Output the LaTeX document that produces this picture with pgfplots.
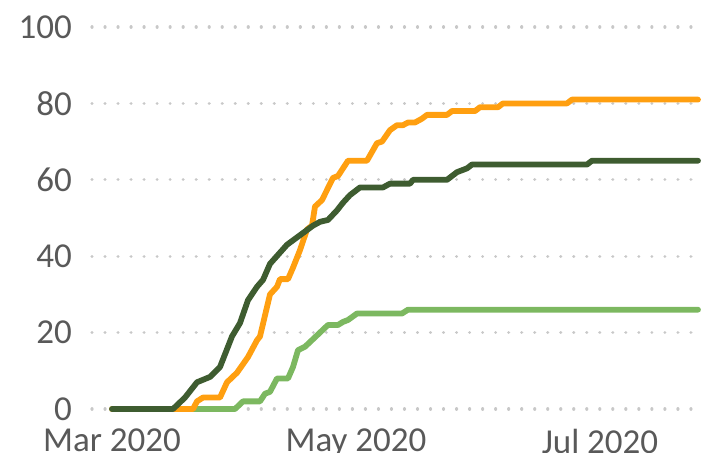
\documentclass[border=0pt]{standalone}
\usepackage{pgfplots}
\pgfplotsset{compat=1.18}
\usepackage{fontspec}
\setmainfont{Carlito}
\definecolor{cOrange}{RGB}{255,159,16}
\definecolor{cDark}{RGB}{62,92,48}
\definecolor{cLight}{RGB}{124,184,96}
\definecolor{cGrid}{RGB}{200,200,200}
\definecolor{cText}{RGB}{89,89,89}
\begin{document}
\begin{tikzpicture}
\begin{axis}[
  at={(0,0)}, anchor=south west,
  scale only axis, width=304pt, height=191pt,
  xmin=-5, xmax=147, ymin=0, ymax=100,
  axis line style={draw=none},
  clip=false,
  xtick={0,61,122}, xticklabels={Mar 2020, May 2020, Jul 2020},
  ytick={0,20,40,60,80,100},
  major tick length=0pt,
  ymajorgrids,
  grid style={cGrid, line width=1.6pt, dash pattern=on 0.01pt off 6.5pt, line cap=round},
  tick label style={font=\fontsize{17.5}{21}\selectfont, text=cText},
  /pgf/number format/assume math mode=true,
  yticklabel style={xshift=-6.5pt},
  xticklabel style={yshift=-6.5pt},
  every axis plot/.append style={line width=2.9pt, line join=round, line cap=round},
]
\addplot[cLight] coordinates {
(0,0) (30.75,0) (32.75,2) (37,2) (38.25,4) (39.5,4.5) (41.25,8) (44,8) (45.25,11) (46.5,15.4) (48.25,16.3) (54,22) (56.5,22) (57.75,22.8) (59,23.3) (61.25,25) (72.5,25) (74,26) (146.5,26)
};
\addplot[cOrange] coordinates {
(0,0) (20.25,0) (21.25,2) (22.75,3) (27,3) (28.75,7) (31.25,9.5) (34,13.6) (36.25,18) (37,19) (39.5,30) (41.25,32) (42,34) (44,34) (45.25,37) (47,41.6) (48.75,47) (50,48) (50.75,53) (52.5,54.7) (55.25,60.5) (56.5,61) (59,65) (63.75,65) (66.25,69.6) (67.5,70) (69.5,73) (71.25,74.3) (72.75,74.3) (74,75) (75.75,75) (77.5,76) (78.75,77) (83.75,77) (85,78) (90.75,78) (92,79) (96.5,79) (97.75,80) (113.75,80) (115,81) (146.5,81)
};
\addplot[cDark] coordinates {
(0,0) (15.25,0) (18.25,3) (21.25,7) (24.5,8.4) (27,11) (30,19) (32,22.5) (34,28.5) (36.25,32) (37.75,33.8) (39.5,38) (43.75,43) (47,45.5) (50.25,48) (52,49) (54,49.5) (56.25,52) (57.75,54) (59.5,56) (62,58) (67.75,58) (69.5,59) (74.5,59) (75.25,60) (83.75,60) (86.25,62) (88.75,63) (90,64) (118.75,64) (120,65) (146.5,65)
};
\end{axis}
\pgfresetboundingbox
\path (-46pt,-21.5pt) rectangle (305pt,204.5pt);
\end{tikzpicture}
\end{document}
